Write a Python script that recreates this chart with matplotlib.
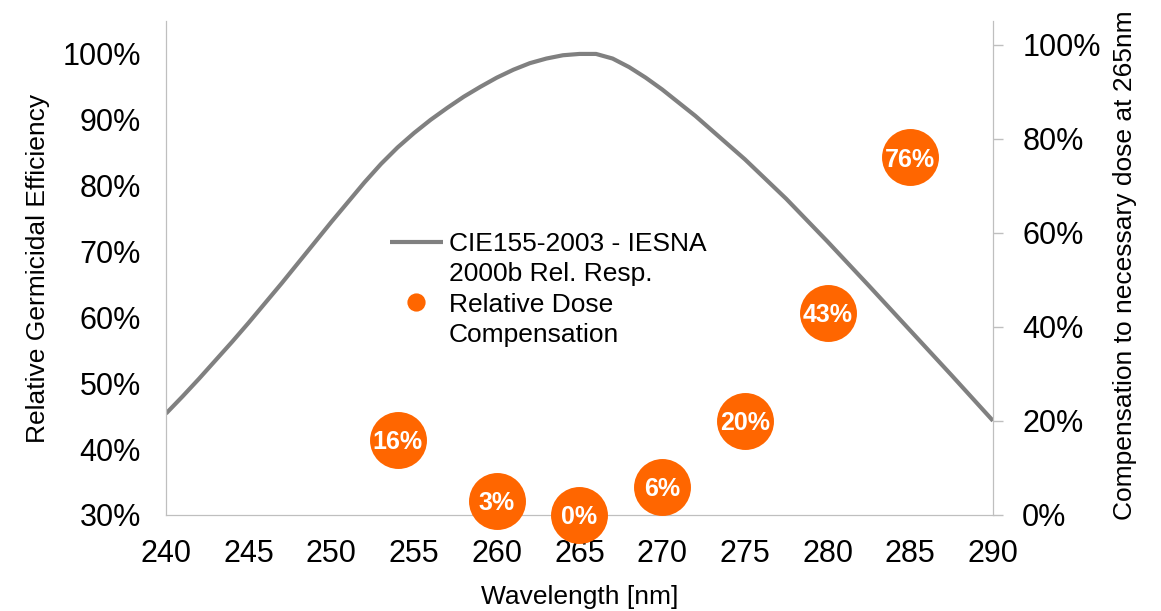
import numpy as np
import matplotlib
matplotlib.use("Agg")
import matplotlib.pyplot as plt
from matplotlib.lines import Line2D
from matplotlib.ticker import PercentFormatter, MultipleLocator

plt.rcParams['font.family'] = ['Liberation Sans', 'DejaVu Sans']

# germicidal curve (nm, relative efficiency)
wl = [240, 241, 242, 243, 244, 245, 246, 247, 248, 249, 250, 251, 252, 253, 254, 255,
      256, 257, 258, 259, 260, 261, 262, 263, 264, 265, 266, 267, 268, 269, 270,
      272, 275, 277.5, 280, 282.5, 285, 287.5, 290]
eff = [0.454, 0.480, 0.507, 0.535, 0.563, 0.592, 0.622, 0.652, 0.683, 0.714, 0.745,
       0.775, 0.805, 0.833, 0.858, 0.880, 0.900, 0.918, 0.935, 0.950, 0.964, 0.976,
       0.986, 0.993, 0.998, 1.0, 1.0, 0.993, 0.980, 0.964, 0.946,
       0.906, 0.840, 0.780, 0.715, 0.648, 0.580, 0.512, 0.443]

# dose compensation points
dose_wl = [254, 260, 265, 270, 275, 280, 285]
dose = [0.16, 0.03, 0.0, 0.06, 0.20, 0.43, 0.76]
dose_labels = ['16%', '3%', '0%', '6%', '20%', '43%', '76%']

grey = '#808080'
orange = '#FF6600'
spine_col = '#BFBFBF'

fig = plt.figure(figsize=(11.61, 6.11), dpi=100)
ax = fig.add_axes([166/1161, 1-515/611, (993-166)/1161, (515-21)/611])
ax2 = ax.twinx()

line, = ax.plot(wl, eff, color=grey, lw=3, zorder=2, solid_capstyle='butt')
ax.set_xlim(240, 290)
ax.set_ylim(0.30, 1.05)
ax.set_yticks(np.arange(0.3, 1.001, 0.1))
ax.yaxis.set_major_formatter(PercentFormatter(1.0, decimals=0))
ax.xaxis.set_major_locator(MultipleLocator(5))

pts, = ax2.plot(dose_wl, dose, 'o', color=orange, markersize=41, markeredgewidth=0,
                zorder=3, clip_on=False)
for x, y, s in zip(dose_wl, dose, dose_labels):
    ax2.text(x, y, s, color='white', fontsize=18, fontweight='bold', ha='center',
             va='center_baseline', zorder=4, clip_on=False)
ax2.set_ylim(0, 1.05)
ax2.set_yticks(np.arange(0, 1.001, 0.2))
ax2.yaxis.set_major_formatter(PercentFormatter(1.0, decimals=0))

for a in (ax, ax2):
    for s in a.spines.values():
        s.set_color(spine_col)
    a.spines['top'].set_visible(False)
ax.tick_params(axis='x', length=0, labelsize=22, pad=17)
ax.tick_params(axis='y', length=0, labelsize=22, pad=18)
ax2.tick_params(axis='y', length=7, width=1, color=spine_col, labelsize=22, pad=14)

ax.set_xlabel('Wavelength [nm]', fontsize=19, labelpad=12)
ax.set_ylabel('Relative Germicidal Efficiency', fontsize=19, labelpad=9)
fig.text(1125/1161, 1-520/611, 'Compensation to necessary dose at 265nm', fontsize=19,
         rotation=90, ha='center', va='bottom')

blank = Line2D([], [], linestyle='none')
leg = ax2.legend([line, blank, pts, blank],
                 ['CIE155-2003 - IESNA', '2000b Rel. Resp.', 'Relative Dose', 'Compensation'],
                 loc='upper left', bbox_to_anchor=(390/1161, 1-232/611), bbox_transform=fig.transFigure,
                 frameon=False, fontsize=19, handlelength=2.0, handletextpad=0.22,
                 borderpad=0, borderaxespad=0, labelspacing=0.24, markerscale=0.32)

fig.savefig('out.png', dpi=100)
